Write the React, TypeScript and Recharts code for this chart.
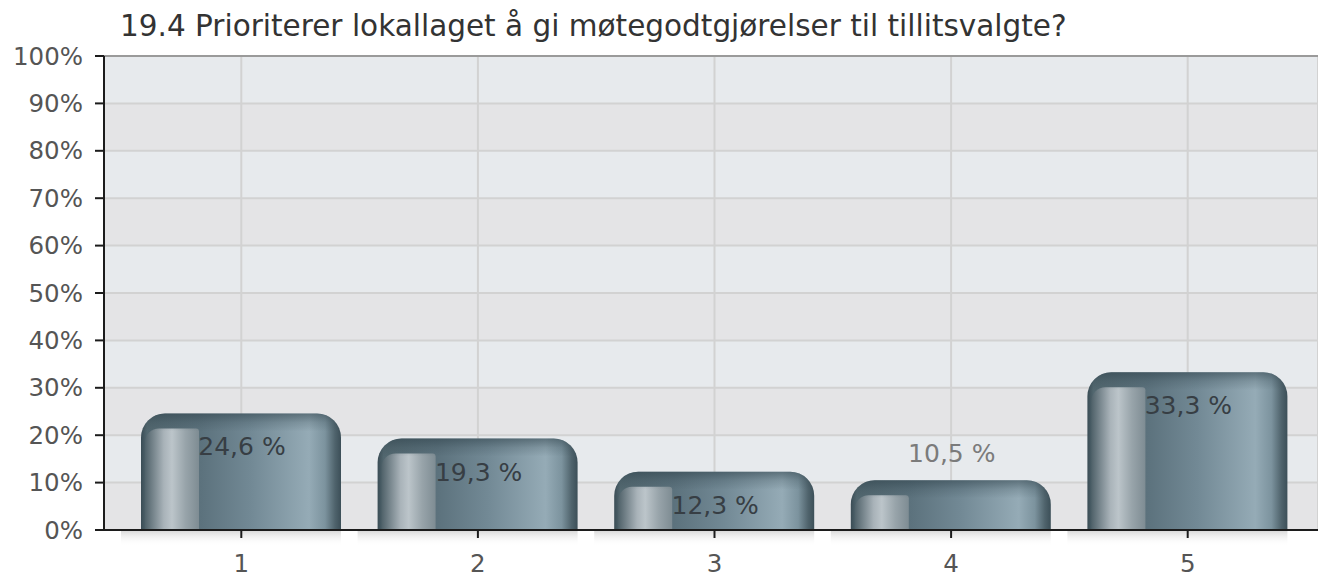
import React from "react";
import { BarChart, Bar, XAxis, YAxis, CartesianGrid, LabelList, ReferenceLine } from "recharts";

// verdiene lest av bildet
const categories = ["1", "2", "3", "4", "5"];
const values = [24.6, 19.3, 12.3, 10.5, 33.3];
const yTicks = [0, 10, 20, 30, 40, 50, 60, 70, 80, 90, 100];
const title = "19.4 Prioriterer lokallaget å gi møtegodtgjørelser til tillitsvalgte?";

const data = categories.map((name, i) => ({ name, value: values[i] }));

const FONT = '"DejaVu Sans", Verdana, sans-serif';

const GlassBar = (props: any) => {
  const { x, y, width, height, index } = props;
  if (!height || height <= 0) return null;
  const r = Math.min(24, height, width / 2);
  const b = y + height;
  const w = width;
  const body = `M${x},${b} L${x},${y + r} A${r},${r} 0 0 1 ${x + r},${y} L${x + w - r},${y} A${r},${r} 0 0 1 ${x + w},${y + r} L${x + w},${b} Z`;

  // lys stripe til venstre
  const sx = x + w * 0.02;
  const ex = x + w * 0.29;
  const sy = Math.min(y + 15, b);
  const sr = Math.min(14, b - sy);
  const strip = `M${sx},${b} L${sx},${sy + sr} A${sr},${sr} 0 0 1 ${sx + sr},${sy} L${ex - 3},${sy} Q${ex},${sy} ${ex},${sy + 3} L${ex},${b} Z`;

  const id = `gb${index}`;
  return (
    <g>
      <defs>
        <linearGradient id={`${id}-cap`} x1="0" y1={y} x2="0" y2={y + 18} gradientUnits="userSpaceOnUse">
          <stop offset="0" stopColor="#2f424b" stopOpacity={0.55} />
          <stop offset="0.5" stopColor="#2f424b" stopOpacity={0.2} />
          <stop offset="1" stopColor="#2f424b" stopOpacity={0} />
        </linearGradient>
        <linearGradient id={`${id}-sh`} x1="0" y1={b} x2="0" y2={b + 16} gradientUnits="userSpaceOnUse">
          <stop offset="0" stopColor="#d6d6d6" />
          <stop offset="1" stopColor="#ffffff" stopOpacity={0} />
        </linearGradient>
      </defs>
      <rect x={x - 20} y={b} width={w + 20} height={16} fill={`url(#${id}-sh)`} />
      <path d={body} fill="url(#barMain)" />
      <path d={strip} fill="url(#barStrip)" />
      <path d={body} fill={`url(#${id}-cap)`} />
    </g>
  );
};

const renderLabel = (props: any) => {
  const { x, y, width, height, value } = props;
  const inside = height >= 55;
  return (
    <text
      x={x + width / 2 + 1}
      y={inside ? y + 42 : y - 18}
      textAnchor="middle"
      fill={inside ? "#373e44" : "#7b7b7b"}
      fontSize={25}
      fontFamily={FONT}
    >
      {`${Number(value).toFixed(1).replace(".", ",")} %`}
    </text>
  );
};

export default function App() {
  return (
    <div style={{ position: "absolute", left: 0, top: 0, width: 1318, height: 578, background: "#fff", fontFamily: FONT }}>
      <div
        style={{
          position: "absolute",
          left: 120,
          top: 12,
          fontSize: 29.5,
          lineHeight: "1",
          color: "#333",
          whiteSpace: "nowrap",
        }}
      >
        {title}
      </div>
      <BarChart width={1318} height={578} data={data} margin={{ top: 56, right: 0, left: 0, bottom: 0 }}>
        <defs>
          <linearGradient id="barMain" x1="0" y1="0" x2="1" y2="0">
            <stop offset="0" stopColor="#3a4c55" />
            <stop offset="0.03" stopColor="#52676f" />
            <stop offset="0.3" stopColor="#5c727d" />
            <stop offset="0.55" stopColor="#728995" />
            <stop offset="0.84" stopColor="#95abb6" />
            <stop offset="0.92" stopColor="#7c939e" />
            <stop offset="0.97" stopColor="#4f636c" />
            <stop offset="1" stopColor="#3c4f58" />
          </linearGradient>
          <linearGradient id="barStrip" x1="0" y1="0" x2="1" y2="0">
            <stop offset="0" stopColor="#4f6169" />
            <stop offset="0.35" stopColor="#a9b3b9" />
            <stop offset="0.5" stopColor="#bcc5ca" />
            <stop offset="0.75" stopColor="#98a4aa" />
            <stop offset="1" stopColor="#7e8c93" />
          </linearGradient>
        </defs>
        <CartesianGrid
          stroke="#d2d2d2"
          strokeWidth={2}
          horizontalFill={["#e7eaed", "#e4e4e6"]}
          fillOpacity={1}
        />
        <XAxis
          dataKey="name"
          padding={{ left: 19, right: 12 }}
          height={48}
          tickSize={8}
          tickMargin={17}
          axisLine={{ stroke: "#1c1c1c", strokeWidth: 2 }}
          tickLine={{ stroke: "#1c1c1c", strokeWidth: 2 }}
          tick={{ fill: "#555", fontSize: 24.5, fontFamily: FONT }}
        />
        <YAxis
          domain={[0, 100]}
          ticks={yTicks}
          width={104}
          tickSize={9}
          tickMargin={12}
          interval={0}
          tickFormatter={(v: number) => `${v}%`}
          axisLine={{ stroke: "#1c1c1c", strokeWidth: 2 }}
          tickLine={{ stroke: "#1c1c1c", strokeWidth: 2 }}
          tick={{ fill: "#555", fontSize: 24.5, fontFamily: FONT }}
        />
        <ReferenceLine y={100} stroke="#9a9a9a" strokeWidth={2} />
        <Bar dataKey="value" barSize={200} shape={GlassBar} isAnimationActive={false}>
          <LabelList dataKey="value" content={renderLabel} />
        </Bar>
      </BarChart>
    </div>
  );
}
